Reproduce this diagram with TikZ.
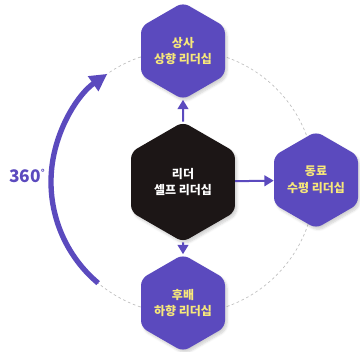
\documentclass[tikz,border=0pt]{standalone}
\usepackage{fontspec}
\newfontfamily\krfont{Noto Sans CJK KR}
\setsansfont{Noto Sans CJK KR}
\usepackage{tikz}
\usetikzlibrary{shapes.geometric,arrows.meta,shadows.blur}
\definecolor{hexpurple}{RGB}{91,74,190}
\definecolor{hexblack}{RGB}{28,22,22}
\definecolor{hexyellow}{RGB}{247,232,122}
\definecolor{ringgray}{RGB}{190,190,190}
\tikzset{
  hexbox/.style={regular polygon, regular polygon sides=6, shape border rotate=30,
    rounded corners=5pt, fill=hexpurple, minimum size=97*0.75pt, inner sep=0pt,
    align=center, text=hexyellow, font=\krfont\bfseries\fontsize{9}{12.5}\selectfont,
    blur shadow={shadow xshift=1.5pt, shadow yshift=-2pt, shadow blur steps=6, shadow opacity=18}},
  linkarrow/.style={draw=hexpurple, line width=1.5pt, -{Triangle[length=7pt,width=8pt]}}
}
\begin{document}
\begin{tikzpicture}[x=0.75pt,y=0.75pt]
\useasboundingbox (0,0) rectangle (360,352);
%\node {\includegraphics{ref.png}};
\coordinate (o) at (183,170);
\draw[ringgray, dashed, dash pattern=on 2pt off 2pt, line width=0.5pt] (o) circle (132);
\draw[hexpurple, line width=4pt, line cap=butt, -{Triangle[length=13pt,width=13pt]}]
  (o) ++(230:132) arc[start angle=230, end angle=125, radius=132];
\node[text=hexpurple, font=\krfont\bfseries\fontsize{13}{14}\selectfont] (deg) at (27,176) {360\raisebox{0.35em}{\fontsize{7}{8}\selectfont°}};
\node[hexbox, fill=hexblack, text=white, minimum size=120*0.75pt] (self) at (o) {리더\\셀프 리더십};
\node[hexbox] (boss) at (183,301) {상사\\상향 리더십};
\node[hexbox] (peer) at (316,172) {동료\\수평 리더십};
\node[hexbox] (junior) at (183,49) {후배\\하향 리더십};
\draw[linkarrow] (self) -- (boss);
\draw[linkarrow] (self) -- (peer);
\draw[linkarrow] (self) -- (junior);
\end{tikzpicture}
\end{document}
